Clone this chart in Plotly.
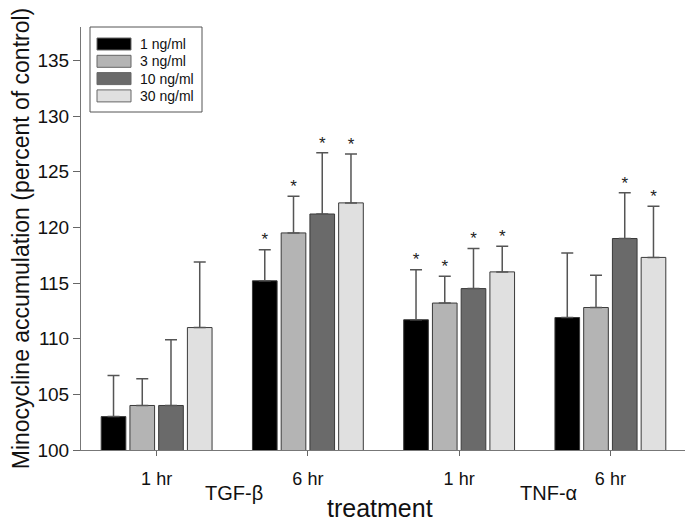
"""
Minocycline accumulation after TGF-beta / TNF-alpha treatment, grouped bars with SD.
"""

import plotly.graph_objects as go

# groups on the x axis
time_labels = ["1 hr", "6 hr", "1 hr", "6 hr"]
treatments = ["TGF-\u03b2", "TNF-\u03b1"]

# concentrations (legend)
doses = ["1 ng/ml", "3 ng/ml", "10 ng/ml", "30 ng/ml"]

# mean values, percent of control
mean_1 = [103.0, 115.2, 111.7, 111.9]
mean_3 = [104.0, 119.5, 113.2, 112.8]
mean_10 = [104.0, 121.2, 114.5, 119.0]
mean_30 = [111.0, 122.2, 116.0, 117.3]

# upper error bar
err_1 = [3.7, 2.8, 4.5, 5.8]
err_3 = [2.4, 3.3, 2.4, 2.9]
err_10 = [5.9, 5.5, 3.6, 4.1]
err_30 = [5.9, 4.4, 2.3, 4.6]

# significance stars
sig_1 = [False, True, True, False]
sig_3 = [False, True, True, False]
sig_10 = [False, True, True, True]
sig_30 = [False, True, True, True]

colors = ["#000000", "#b4b4b4", "#6a6a6a", "#e0e0e0"]
FONT = "Liberation Sans, Arial, sans-serif"

# the page body adds an 8px margin, so the figure is drawn a little smaller
OFF = 8
W, H = 693 - OFF, 524 - OFF
PLOT_L, PLOT_T, PLOT_R, PLOT_B = 81, 27, 686, 450   # plot area in window pixels
SLOT = 0.19   # spacing between bars within a group (x units)
BAR_W = 0.163


def px_x(px):
    return (px - PLOT_L) / (PLOT_R - PLOT_L)


def px_y(py):
    return (PLOT_B - py) / (PLOT_B - PLOT_T)


fig = go.Figure()

series = [
    (mean_1, err_1, sig_1),
    (mean_3, err_3, sig_3),
    (mean_10, err_10, sig_10),
    (mean_30, err_30, sig_30),
]

for i, (means, errs, sigs) in enumerate(series):
    xs = [g + (i - 1.5) * SLOT for g in range(len(means))]
    fig.add_trace(go.Bar(
        x=xs,
        y=means,
        width=BAR_W,
        name=doses[i],
        marker=dict(color=colors[i], line=dict(color="#3a3a3a", width=1)),
        error_y=dict(type="data", array=errs, symmetric=False,
                     arrayminus=[0] * len(errs),
                     color="#555555", thickness=1.5, width=6),
        showlegend=False,
    ))
    star_x = [x for x, s in zip(xs, sigs) if s]
    star_y = [m + e for m, e, s in zip(means, errs, sigs) if s]
    fig.add_trace(go.Scatter(
        x=star_x,
        y=star_y,
        mode="text",
        text=["*"] * len(star_x),
        textposition="top center",
        textfont=dict(family=FONT, size=17, color="#222222"),
        showlegend=False,
        hoverinfo="skip",
    ))

# custom legend (wide swatches like the original)
shapes = [dict(type="rect", xref="paper", yref="paper",
               x0=px_x(90), x1=px_x(202), y0=px_y(112), y1=px_y(27),
               line=dict(color="#555555", width=1), fillcolor="white",
               layer="above")]
annotations = []
for i, d in enumerate(doses):
    cy = 44 + i * 17.3
    shapes.append(dict(type="rect", xref="paper", yref="paper",
                       x0=px_x(97), x1=px_x(131), y0=px_y(cy + 6), y1=px_y(cy - 6),
                       line=dict(color="#666666", width=1), fillcolor=colors[i],
                       layer="above"))
    annotations.append(dict(x=px_x(138), y=px_y(cy), xref="paper", yref="paper",
                            text=d, showarrow=False, xanchor="left", yanchor="middle",
                            font=dict(family=FONT, size=14, color="#111111")))

# treatment labels and axis title
annotations.append(dict(x=0.51, y=px_y(493), xref="x", yref="paper", text=treatments[0],
                        showarrow=False, xanchor="center", yanchor="middle",
                        font=dict(family=FONT, size=20, color="#111111")))
annotations.append(dict(x=2.59, y=px_y(493), xref="x", yref="paper", text=treatments[1],
                        showarrow=False, xanchor="center", yanchor="middle",
                        font=dict(family=FONT, size=20, color="#111111")))
annotations.append(dict(x=px_x(380), y=px_y(508), xref="paper", yref="paper", text="treatment",
                        showarrow=False, xanchor="center", yanchor="middle",
                        font=dict(family=FONT, size=25, color="#111111")))

fig.update_layout(
    width=W,
    height=H,
    margin=dict(l=PLOT_L - OFF, r=693 - PLOT_R, t=PLOT_T - OFF, b=524 - PLOT_B),
    plot_bgcolor="white",
    paper_bgcolor="white",
    font=dict(family=FONT, color="#111111"),
    shapes=shapes,
    annotations=annotations,
)

fig.update_xaxes(
    range=[-0.5, 3.5],
    tickvals=list(range(len(time_labels))),
    ticktext=time_labels,
    ticks="outside",
    ticklen=5,
    tickcolor="#666666",
    ticklabelstandoff=7,
    tickfont=dict(family=FONT, size=18, color="#111111"),
    showline=True,
    linecolor="#777777",
    linewidth=1,
    showgrid=False,
    zeroline=False,
)

fig.update_yaxes(
    range=[100, 138],
    dtick=5,
    ticks="outside",
    ticklen=7,
    tickcolor="#666666",
    tickfont=dict(family=FONT, size=19, color="#111111"),
    showline=True,
    linecolor="#777777",
    linewidth=1,
    showgrid=False,
    zeroline=False,
    title=dict(text="Minocycline accumulation (percent of control)",
               font=dict(family=FONT, size=23, color="#111111"), standoff=5),
)

fig.write_html("out.html")
